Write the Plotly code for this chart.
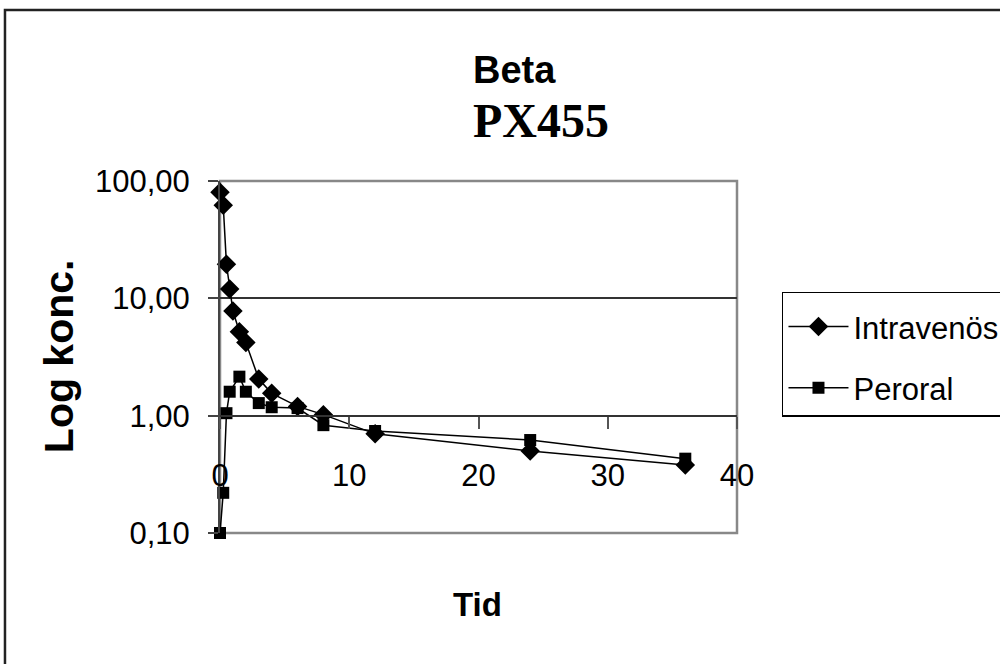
import plotly.graph_objects as go

# Data
iv_time = [0, 0.25, 0.5, 0.75, 1, 1.5, 2, 3, 4, 6, 8, 12, 24, 36]
iv_conc = [80, 62, 19.5, 12, 7.8, 5.2, 4.2, 2.05, 1.55, 1.2, 1.02, 0.70, 0.50, 0.38]

po_time = [0, 0.25, 0.5, 0.75, 1.5, 2, 3, 4, 6, 8, 12, 24, 36]
po_conc = [0.10, 0.22, 1.05, 1.6, 2.15, 1.6, 1.28, 1.18, 1.16, 0.83, 0.74, 0.62, 0.43]

y_tickvals = [0.1, 1, 10, 100]
y_ticktext = ["0,10", "1,00", "10,00", "100,00"]
x_tickvals = [0, 10, 20, 30, 40]
x_ticktext = ["0", "10", "20", "30", "40"]

SANS = "Liberation Sans, Arial, sans-serif"
SERIF = "Liberation Serif, Times New Roman, serif"

fig = go.Figure()
fig.add_trace(go.Scatter(
    x=iv_time, y=iv_conc, name="Intravenös", mode="lines+markers",
    line=dict(color="black", width=1.5),
    marker=dict(symbol="diamond", size=15, color="black"),
    legendgroup="iv", cliponaxis=False,
))
fig.add_trace(go.Scatter(
    x=po_time, y=po_conc, name="Peroral", mode="lines+markers",
    line=dict(color="black", width=1.5),
    marker=dict(symbol="square", size=12, color="black"),
    legendgroup="po", cliponaxis=False,
))

fig.update_layout(
    width=1000, height=664,
    margin=dict(l=220, r=263, t=181, b=131, autoexpand=False),
    paper_bgcolor="white", plot_bgcolor="white",
    showlegend=True,
    legend=dict(
        x=1.087, y=0.685, xanchor="left", yanchor="top",
        bordercolor="black", borderwidth=1.5, bgcolor="white",
        font=dict(family=SANS, size=31, color="black"),
        tracegroupgap=18, itemwidth=60,
        title=dict(text="&nbsp;", font=dict(size=5)),
    ),
    xaxis=dict(
        range=[0, 40], anchor="free", position=1/3,
        showgrid=False, zeroline=False,
        showline=True, linecolor="#333", linewidth=2,
        ticks="outside", ticklen=12, tickwidth=2, tickcolor="#555",
        tickvals=x_tickvals, ticktext=x_ticktext,
        tickfont=dict(family=SANS, size=31, color="black"),
        ticklabelstandoff=20,
    ),
    yaxis=dict(
        type="log", range=[-1, 2],
        tickvals=y_tickvals, ticktext=y_ticktext,
        showgrid=True, gridcolor="#333", gridwidth=2,
        showline=True, linecolor="#444", linewidth=2,
        ticks="outside", ticklen=10, tickwidth=2, tickcolor="#444",
        tickfont=dict(family=SANS, size=31, color="black"),
        ticklabelstandoff=12,
        zeroline=False,
    ),
    shapes=[
        dict(type="rect", xref="paper", yref="paper", x0=0, x1=1, y0=0, y1=1,
             line=dict(color="#888", width=2.5), layer="below"),
        dict(type="rect", xref="paper", yref="paper", x0=-0.4159, x1=1.528,
             y0=-0.418, y1=1.486, line=dict(color="#222", width=2.5), layer="below"),
    ],
    annotations=[
        dict(text="<b>Beta</b>", xref="paper", yref="paper", x=0.4855, y=1.315,
             xanchor="left", yanchor="middle", showarrow=False,
             font=dict(family=SANS, size=38, color="black")),
        dict(text="<b>PX455</b>", xref="paper", yref="paper", x=0.4855, y=1.173,
             xanchor="left", yanchor="middle", showarrow=False,
             font=dict(family=SERIF, size=48, color="black")),
        dict(text="<b>Tid</b>", xref="paper", yref="paper", x=0.499, y=-0.2045,
             xanchor="center", yanchor="middle", showarrow=False,
             font=dict(family=SANS, size=33, color="black")),
        dict(text="<b>Log konc.</b>", xref="paper", yref="paper", x=-0.311, y=0.503,
             xanchor="center", yanchor="middle", showarrow=False, textangle=-90,
             font=dict(family=SANS, size=41, color="black")),
    ],
)

fig.write_html("out.html", config={"displayModeBar": False},
               post_script="document.body.style.margin='0';")
